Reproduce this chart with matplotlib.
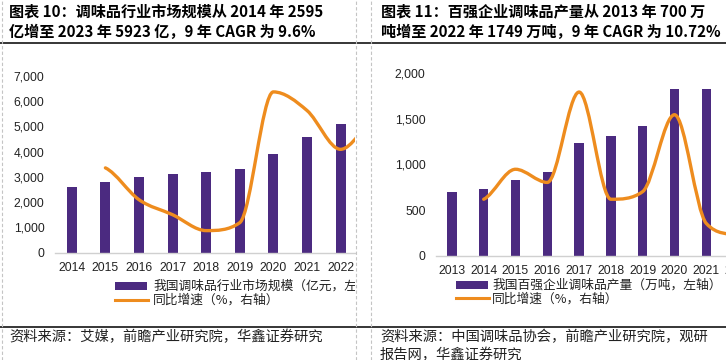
import matplotlib
matplotlib.use("Agg")
import matplotlib.pyplot as plt
import numpy as np
from matplotlib.path import Path
from matplotlib.patches import PathPatch, Rectangle
from matplotlib.lines import Line2D

plt.rcParams['font.family'] = ['Noto Sans CJK SC', 'DejaVu Sans']

# ---------------- data ----------------
years_l = ['2014', '2015', '2016', '2017', '2018', '2019', '2020', '2021', '2022', '2023']
market_size = [2595, 2800, 3000, 3118, 3197, 3315, 3910, 4584, 5100, 5923]          # 亿元
market_growth_years = ['2015', '2016', '2017', '2018', '2019', '2020', '2021', '2022', '2023']
market_growth = [9.6, 6.0, 4.3, 2.5, 3.4, 18.2, 16.1, 11.7, 15.0]                   # %

years_r = ['2013', '2014', '2015', '2016', '2017', '2018', '2019', '2020', '2021', '2022']
output_top100 = [700, 735, 834, 918, 1240, 1313, 1426, 1828, 1828, 1749]             # 万吨
output_growth_years = ['2014', '2015', '2016', '2017', '2018', '2019', '2020', '2021', '2022']
output_growth = [5.5, 13.7, 10.1, 34.8, 5.5, 7.6, 28.6, -1.1, -4.3]                  # %

title_l = ['图表 10：调味品行业市场规模从 2014 年 2595', '亿增至 2023 年 5923 亿，9 年 CAGR 为 9.6%']
title_r = ['图表 11：百强企业调味品产量从 2013 年 700 万', '吨增至 2022 年 1749 万吨，9 年 CAGR 为 10.72%']
legend_l = ['我国调味品行业市场规模（亿元，左轴）', '同比增速（%，右轴）']
legend_r = ['我国百强企业调味品产量（万吨，左轴）', '同比增速（%，右轴）']
source_l = ['资料来源：艾媒，前瞻产业研究院，华鑫证券研究']
source_r = ['资料来源：中国调味品协会，前瞻产业研究院，观研', '报告网，华鑫证券研究']

PURPLE = '#4B2A80'
ORANGE = '#EE8C1E'
W, H = 726, 360

fig = plt.figure(figsize=(W / 100, H / 100), dpi=100)


def fx(x):
    return x / W


def fy(y):
    return 1 - y / H


def smooth_path(xs, ys):
    """Bezier path through the points (monotone-style tangents, like a smoothed office line)."""
    x = np.asarray(xs, float)
    y = np.asarray(ys, float)
    n = len(x)
    m = np.zeros(n)
    for i in range(n):
        if i == 0:
            m[i] = (y[1] - y[0]) / 2
        elif i == n - 1:
            m[i] = (y[-1] - y[-2]) / 2
        else:
            d0 = y[i] - y[i - 1]
            d1 = y[i + 1] - y[i]
            if d0 * d1 <= 0:
                m[i] = 0
            else:
                s = (y[i + 1] - y[i - 1]) / 2
                lim = 3 * min(abs(d0), abs(d1))
                m[i] = np.sign(s) * min(abs(s), lim)
    verts = [(x[0], y[0])]
    codes = [Path.MOVETO]
    for i in range(n - 1):
        h = x[i + 1] - x[i]
        verts += [(x[i] + h / 3, y[i] + m[i] * h / 3),
                  (x[i + 1] - h / 3, y[i + 1] - m[i + 1] * h / 3),
                  (x[i + 1], y[i + 1])]
        codes += [Path.CURVE4] * 3
    return Path(verts, codes)


def make_panel(x0, x1, ybot, ytop, cats, bars, gcats, gvals, xlim, ylim, yticks, g_ylim):
    ax = fig.add_axes([fx(x0), fy(ybot), fx(x1 - x0), (ybot - ytop) / H])
    xpos = np.arange(len(cats))
    ax.bar(xpos, bars, width=0.3, color=PURPLE, zorder=2)

    ax2 = ax.twinx()
    gx = [cats.index(c) for c in gcats]
    path = smooth_path(gx, gvals)
    patch = PathPatch(path, facecolor='none', edgecolor=ORANGE, lw=2.4,
                      transform=ax2.transData, capstyle='round', joinstyle='round')
    ax2.add_patch(patch)
    ax2.axis('off')

    ax.set_yticks(yticks)
    ax.set_yticklabels([f'{v:,}' for v in yticks], family=['Liberation Sans'], fontsize=8.7, color='#222222')
    ax.set_xticks(xpos)
    ax.set_xticklabels(cats, family=['Liberation Sans'], fontsize=8.7, color='#222222')
    ax.set_autoscale_on(False)
    ax2.set_autoscale_on(False)
    ax.set_xlim(*xlim)
    ax.set_ylim(*ylim)
    ax2.set_ylim(*g_ylim)
    ax.tick_params(axis='both', length=0)
    ax.tick_params(axis='y', pad=7.5)
    ax.tick_params(axis='x', pad=6.8)
    for s in ['top', 'right', 'left']:
        ax.spines[s].set_visible(False)
    ax.spines['bottom'].set_color('#D0D0D0')
    ax.spines['bottom'].set_linewidth(1.0)
    ax.patch.set_alpha(0)
    return ax, ax2


# left panel: clipped at the panel border (x = 355)
make_panel(55, 355, 252.7, 76, years_l, market_size, market_growth_years, market_growth,
           (-0.5, 8.43), (0, 7000), list(range(0, 7001, 1000)), (0, 20))
# right panel: runs off the image edge
make_panel(436, 754, 256, 73, years_r, output_top100, output_growth_years, output_growth,
           (-0.5, 9.5), (0, 2000), list(range(0, 2001, 500)), (-10, 40))

# clipping holders for the panel texts
lp = fig.add_axes([0, 0, fx(355), 1])
lp.axis('off')
lp.set_xlim(0, 355)
lp.set_ylim(H, 0)
rp = fig.add_axes([fx(371), 0, fx(W - 371), 1])
rp.axis('off')
rp.set_xlim(371, W)
rp.set_ylim(H, 0)

title_kw = dict(fontsize=10.9, fontweight='bold', color='black', va='center', ha='left', clip_on=True)
lp.text(9, 11.5, title_l[0], **title_kw)
lp.text(9, 31.5, title_l[1], **title_kw)
rp.text(381, 11.5, title_r[0], **title_kw)
rp.text(381, 31.5, title_r[1], **title_kw)

leg_kw = dict(fontsize=9.2, color='#222222', va='center', ha='left', clip_on=True)
# left legend
lp.add_patch(Rectangle((115, 282), 32, 8, facecolor=PURPLE, edgecolor='none', clip_on=True))
lp.add_line(Line2D([115, 148], [299.5, 299.5], color=ORANGE, lw=2.2))
lp.text(153, 286, legend_l[0], **leg_kw)
lp.text(153, 300, legend_l[1], **leg_kw)
# right legend
rp.add_patch(Rectangle((456, 281), 32, 8, facecolor=PURPLE, edgecolor='none'))
rp.add_line(Line2D([456, 489], [298, 298], color=ORANGE, lw=2.2))
rp.text(492, 285, legend_r[0], **leg_kw)
rp.text(492, 299, legend_r[1], **leg_kw)

src_kw = dict(fontsize=10.3, color='#222222', va='center', ha='left', clip_on=True)
lp.text(9, 336.5, source_l[0], **src_kw)
rp.text(380, 337, source_r[0], **src_kw)
rp.text(380, 355, source_r[1], **src_kw)

# rules and dashed panel borders
for yy in (43.3, 327):
    fig.add_artist(Line2D([0, 1], [fy(yy), fy(yy)], transform=fig.transFigure, color='black', lw=1.1))
for xx in (1.5, 355.5, 370.7):
    fig.add_artist(Line2D([fx(xx), fx(xx)], [0, 1], transform=fig.transFigure, color='#C4C4C4',
                          lw=0.8, linestyle=(0, (3, 2))))

fig.savefig('out.png', dpi=100)
